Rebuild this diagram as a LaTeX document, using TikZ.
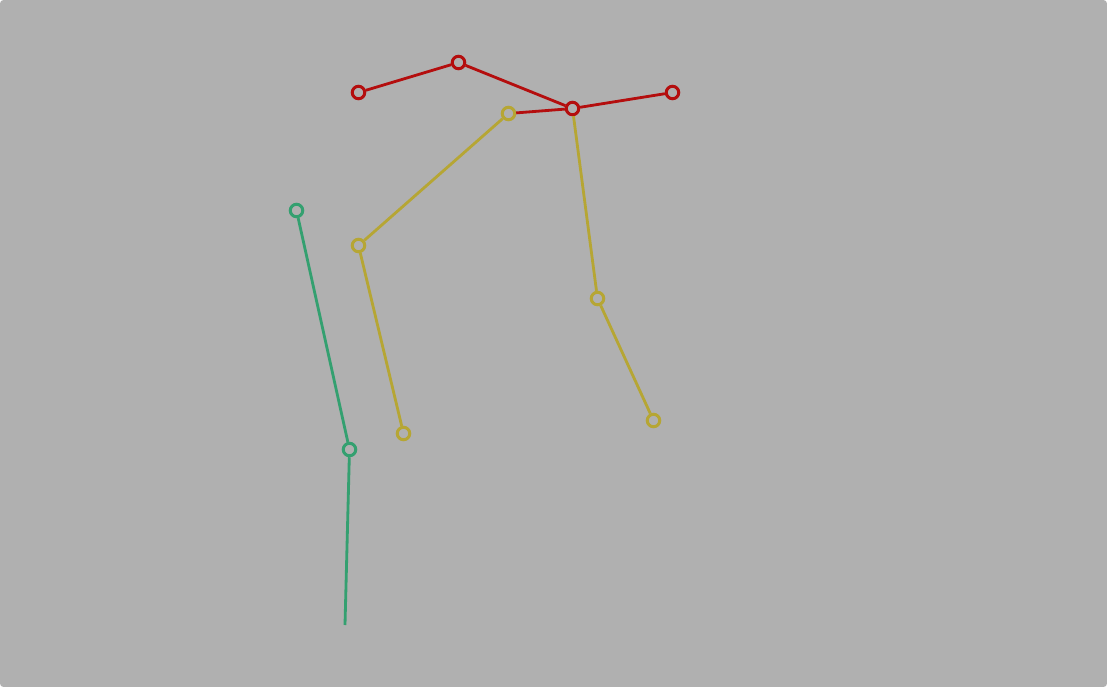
\documentclass[tikz,border=0pt]{standalone}
\usepackage{tikz}
\definecolor{bg}{RGB}{176,176,176}
\definecolor{headred}{RGB}{180,14,14}
\definecolor{armyel}{RGB}{182,166,52}
\definecolor{leggrn}{RGB}{52,160,112}
\tikzset{joint/.style={circle, draw=#1, line width=1.7pt, inner sep=0pt, minimum size=0.25cm},
  bone/.style={#1, line width=1.6pt}}
\begin{document}
\begin{tikzpicture}[x=0.02cm, y=-0.02cm]
      \fill [bg, rounded corners=2pt] (0, 0) rectangle (1107, 687);

      \node [joint=headred] (earL) at (358.5, 92.5) {};
      \node [joint=headred] (head) at (458.5, 62.5) {};
      \node [joint=headred] (neck) at (572.5, 108.5) {};
      \node [joint=headred] (earR) at (672.5, 92.5) {};

      \node [joint=armyel] (shoulder) at (508.5, 113.5) {};
      \node [joint=armyel] (elbowL) at (358.5, 245.5) {};
      \node [joint=armyel] (wristL) at (403.5, 433.5) {};
      \node [joint=armyel] (elbowR) at (597.5, 298.5) {};
      \node [joint=armyel] (wristR) at (653.5, 420.5) {};

      \node [joint=leggrn] (hip) at (296.5, 210.5) {};
      \node [joint=leggrn] (knee) at (349.5, 449.5) {};
      \coordinate (foot) at (345, 625);

      \draw [bone=headred] (earL) -- (head);
      \draw [bone=headred] (head) -- (neck);
      \draw [bone=headred] (neck) -- (earR);
      \draw [bone=headred] (shoulder) -- (neck);

      \draw [bone=armyel] (shoulder) -- (elbowL);
      \draw [bone=armyel] (elbowL) -- (wristL);
      \draw [bone=armyel] (neck) -- (elbowR);
      \draw [bone=armyel] (elbowR) -- (wristR);

      \draw [bone=leggrn] (hip) -- (knee);
      \draw [bone=leggrn] (knee) -- (foot);
    \end{tikzpicture}
\end{document}
